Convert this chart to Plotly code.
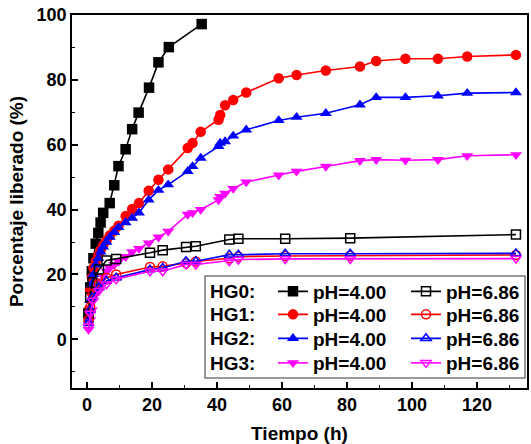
import plotly.graph_objects as go

# ---------------- data ----------------
t_hg0_ph4 = [0.5, 1, 1.5, 2, 2.7, 3.5, 4.2, 5, 7, 8.4, 9.7, 11.9, 13.9, 15.9, 19.1, 22, 25.2, 35.3]
v_hg0_ph4 = [8, 16, 21, 25, 29.5, 32.8, 36, 39, 42, 47.5, 53.4, 58.6, 64.8, 69.9, 77.6, 85.4, 90.1, 97.2]

t_ph4 = [0.5, 1, 1.5, 2, 2.7, 3.5, 4.2, 5, 6, 7, 8.4, 9.7, 11.9, 13.9, 16, 19, 22, 25,
         31, 32.5, 35, 40.5, 41, 42.5, 45, 49, 59, 64.5, 73.5, 84, 89, 98, 108, 117, 132]
v_hg1_ph4 = [9, 15, 19, 22, 24, 26, 27.5, 29, 30.5, 32, 33.5, 35, 38, 40.2, 42, 45.8, 49.2, 52.4,
             59, 60.5, 64, 67.7, 69.2, 72.2, 73.8, 76.1, 80.5, 81.5, 82.9, 84.1, 85.8, 86.5, 86.5, 87.2, 87.7]
v_hg2_ph4 = [6, 12, 17, 20, 23, 25, 27, 28.5, 30, 31.5, 33, 34.5, 36, 37.4, 39, 43, 46, 47.7,
             51.8, 53.3, 55.9, 59.5, 60.5, 61, 62.7, 64.6, 67.5, 68.5, 69.7, 72.3, 74.6, 74.6, 75.1, 75.9, 76.1]
v_hg3_ph4 = [3, 6, 9, 12, 14, 16, 18, 19.5, 21, 22, 23, 24, 25.5, 27, 28, 29.7, 31.5, 33.3,
             38.5, 39, 40, 43, 44, 45, 46.5, 48.5, 50.6, 51.8, 53.3, 55.1, 55.4, 55.2, 55.4, 56.6, 56.9]

t_ph686 = [0.5, 1, 1.7, 3.7, 6, 9, 19.4, 23.3, 30.5, 33.5, 43.8, 46.6, 61, 81, 132]
v_hg0_ph686 = [8, 13, 17.5, 21.5, 24.3, 24.8, 26.7, 27.5, 28.5, 28.7, 30.8, 31, 31, 31.2, 32.3]
v_hg1_ph686 = [6, 10, 14, 17, 19, 20, 22.3, 22.5, 23.5, 24, 25, 25.5, 25.7, 25.8, 26]
v_hg2_ph686 = [5, 9, 13, 16, 18, 19, 21.5, 22, 24.1, 24.1, 26.1, 26.1, 26.4, 26.4, 26.5]
v_hg3_ph686 = [4, 8, 12, 15, 17, 18.5, 21, 21, 23.1, 23.1, 24.1, 24.6, 24.8, 24.8, 24.9]

group_labels = ["HG0:", "HG1:", "HG2:", "HG3:"]
x_ticks = [0, 20, 40, 60, 80, 100, 120]
y_ticks = [0, 20, 40, 60, 80, 100]

# ---------------- figure ----------------
W, H = 531, 444
L, R, T, B = 72, 527, 15, 388   # plot area in pixels

def px(x):
    return (x - L) / (R - L)

def py(y):
    return (B - y) / (B - T)

fig = go.Figure()

acid = [
    (t_hg0_ph4, v_hg0_ph4, "black", "square"),
    (t_ph4, v_hg1_ph4, "red", "circle"),
    (t_ph4, v_hg2_ph4, "blue", "triangle-up"),
    (t_ph4, v_hg3_ph4, "magenta", "triangle-down"),
]
neutral = [
    (t_ph686, v_hg0_ph686, "black", "square-open"),
    (t_ph686, v_hg1_ph686, "red", "circle-open"),
    (t_ph686, v_hg2_ph686, "blue", "triangle-up-open"),
    (t_ph686, v_hg3_ph686, "magenta", "triangle-down-open"),
]

legfont = dict(family="Liberation Sans, Arial, sans-serif", size=19, color="black", weight="bold")
row_y = [291.5, 314.5, 338.5, 363]
legend_cfg = {}

for i, (t, v, c, s) in enumerate(acid):
    key = "legend" if i == 0 else f"legend{2*i+1}"
    fig.add_trace(go.Scatter(
        x=t, y=v, mode="lines+markers", name="pH=4.00",
        line=dict(color=c, width=1.6),
        marker=dict(symbol=s, size=10.5, color=c),
        legend=key, showlegend=True,
    ))
    legend_cfg[key] = dict(x=px(273), y=py(row_y[i]), xanchor="left", yanchor="middle",
                           bgcolor="rgba(0,0,0,0)", font=legfont, itemwidth=30,
                           borderwidth=0, visible=True)
for i, (t, v, c, s) in enumerate(neutral):
    key = f"legend{2*i+2}"
    fig.add_trace(go.Scatter(
        x=t, y=v, mode="lines+markers", name="pH=6.86",
        line=dict(color=c, width=1.6),
        marker=dict(symbol=s, size=9, color=c, line=dict(width=1.5, color=c)),
        legend=key, showlegend=True,
    ))
    legend_cfg[key] = dict(x=px(406), y=py(row_y[i]), xanchor="left", yanchor="middle",
                           bgcolor="rgba(0,0,0,0)", font=legfont, itemwidth=30,
                           borderwidth=0, visible=True)

tickfont = dict(family="Liberation Sans, Arial, sans-serif", size=18, color="black", weight="bold")
titlefont = dict(family="Liberation Sans, Arial, sans-serif", size=19, color="black", weight="bold")

fig.update_xaxes(
    range=[-4.6, 135.4], tickvals=x_ticks, ticks="inside", ticklen=6, tickwidth=1.5,
    tickcolor="black", showline=True, linecolor="black", linewidth=1.5, mirror=True,
    showgrid=False, zeroline=False, tickfont=tickfont, ticklabeloverflow="allow",
    minor=dict(dtick=10, tick0=0, ticks="inside", ticklen=3, tickwidth=1.2, tickcolor="black"),
    title=dict(text="Tiempo (h)", font=titlefont, standoff=14),
)
fig.update_yaxes(
    range=[-15, 100], tickvals=y_ticks, ticks="inside", ticklen=6, tickwidth=1.5,
    tickcolor="black", showline=True, linecolor="black", linewidth=1.5, mirror=True,
    showgrid=False, zeroline=False, tickfont=tickfont, ticklabeloverflow="allow",
    minor=dict(dtick=10, tick0=0, ticks="inside", ticklen=3, tickwidth=1.2, tickcolor="black"),
    title=dict(text="Porcentaje liberado (%)", font=titlefont, standoff=8),
)

fig.update_layout(
    width=W, height=H, showlegend=True,
    margin=dict(l=L, r=W - R, t=T, b=H - B, autoexpand=False),
    paper_bgcolor="white", plot_bgcolor="white",
    shapes=[dict(type="rect", xref="paper", yref="paper",
                 x0=px(205), x1=px(525), y0=py(378), y1=py(276),
                 line=dict(color="#777777", width=1.5), fillcolor="rgba(0,0,0,0)")],
    **legend_cfg,
)

for lab, ry in zip(group_labels, row_y):
    fig.add_annotation(text=lab, xref="paper", yref="paper", x=px(208), y=py(ry),
                       xanchor="left", yanchor="middle", showarrow=False, font=legfont)

fig.write_html("out.html", config={"displayModeBar": False},
               post_script="document.body.style.margin='0px';")
